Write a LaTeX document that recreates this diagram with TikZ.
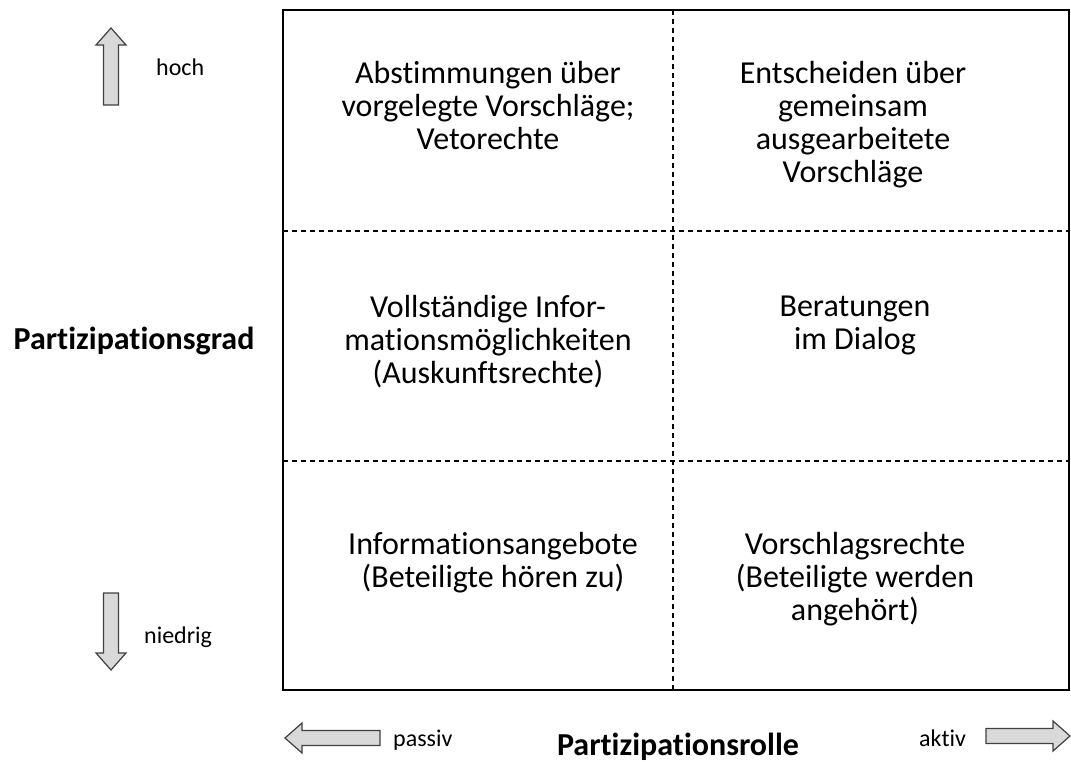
\documentclass[tikz,border=0pt]{standalone}
\usepackage{fontspec}
\setmainfont[Ligatures=NoCommon]{Carlito}
\usepackage{xcolor}
\definecolor{arrowfill}{HTML}{D9D9D9}
\definecolor{arrowline}{HTML}{404040}
\tikzset{
	cell/.style={anchor=north, align=center, inner sep=0pt, font=\fontsize{32}{33}\selectfont},
	axis/.style={anchor=base, inner sep=0pt, font=\fontsize{32}{36}\selectfont\bfseries},
	small/.style={anchor=base west, inner sep=0pt, font=\fontsize{24}{28}\selectfont},
	blockarrow/.pic={\draw[arrowline, fill=arrowfill, line width=1.2pt, line join=miter]
		(0,-7.5) -- (#1-17,-7.5) -- (#1-17,-15) -- (#1,0) -- (#1-17,15) -- (#1-17,7.5) -- (0,7.5) -- cycle;}
}
\begin{document}
\begin{tikzpicture}[x=1pt, y=-1pt]
	\useasboundingbox (0,0) rectangle (1071,762);
	
	\coordinate (nw) at (283,10);
	\coordinate (se) at (1069,690);
	\coordinate (mid) at (673,10);
	\draw[dashed, line width=1.1pt, dash pattern=on 5pt off 4pt] (mid) -- (mid |- se);
	\draw[dashed, line width=1.1pt, dash pattern=on 5pt off 4pt] (283,231) -- (1069,231);
	\draw[dashed, line width=1.1pt, dash pattern=on 5pt off 4pt] (283,461) -- (1069,461);
	\draw[line width=1.6pt] (nw) rectangle (se);
	
	\node[cell] (abst) at (488,61) {Abstimmungen über\\vorgelegte Vorschläge;\\Vetorechte};
	\node[cell] (entsch) at (853,61) {Entscheiden über\\gemeinsam\\ausgearbeitete\\Vorschläge};
	\node[cell] (info) at (488,295) {Vollständige Infor-\\mationsmöglichkeiten\\(Auskunftsrechte)};
	\node[cell] (berat) at (855,296) {Beratungen\\im Dialog};
	\node[cell] (angebot) at (493,532) {Informationsangebote\\(Beteiligte hören zu)};
	\node[cell] (vorschlag) at (855,532) {Vorschlagsrechte\\(Beteiligte werden\\angehört)};
	
	\node[axis] (grad) at (134,349) {Partizipationsgrad};
	\node[axis] (rolle) at (678,755) {Partizipationsrolle};
	
	\pic[rotate=90] at (111,105) {blockarrow=77};
	\pic[rotate=-90] at (111,593) {blockarrow=77};
	\pic[rotate=180] at (380,738) {blockarrow=95};
	\pic at (986,736) {blockarrow=84};
	\node[small] (hoch) at (156,76) {hoch};
	\node[small] (niedrig) at (144,643) {niedrig};
	\node[small] (passiv) at (393,746) {passiv};
	\node[small] (aktiv) at (919,746) {aktiv};
\end{tikzpicture}
\end{document}
